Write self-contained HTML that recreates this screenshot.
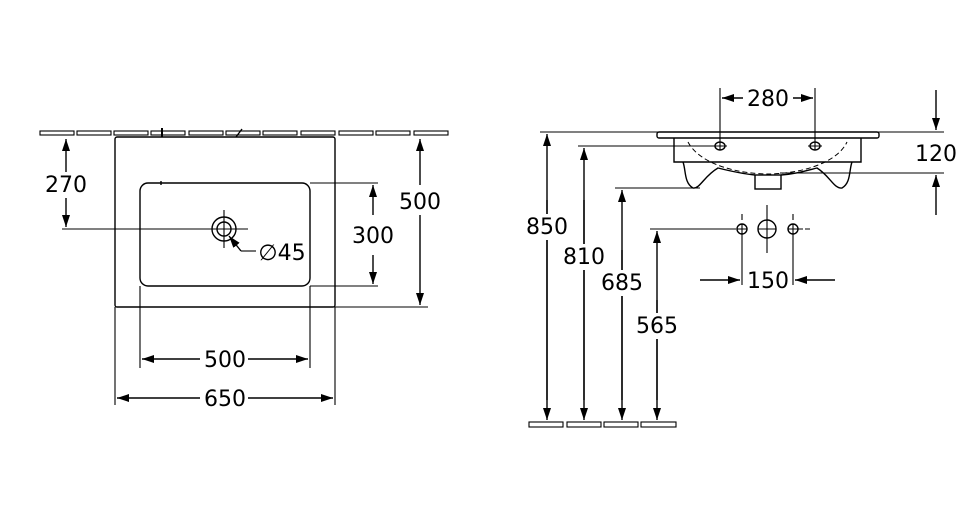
<!DOCTYPE html>
<html><head><meta charset="utf-8"><style>
html,body{margin:0;padding:0;background:#fff;}
svg{display:block}
text{font-family:"DejaVu Sans","Liberation Sans",sans-serif;font-size:22px;fill:#000;}
</style></head><body>
<svg width="977" height="519" viewBox="0 0 977 519" xmlns="http://www.w3.org/2000/svg">
<defs>
<marker id="a" viewBox="0 0 12 8" refX="12" refY="4" markerWidth="12" markerHeight="8" orient="auto" markerUnits="userSpaceOnUse"><path d="M0,0 L12,4 L0,8 z" fill="#000"/></marker>
</defs>
<g stroke="#000" fill="none" stroke-width="1.4">
<g stroke-width="1.1">
<rect x="40" y="131" width="34" height="4"/><rect x="77" y="131" width="34" height="4"/><rect x="114" y="131" width="34" height="4"/><rect x="151" y="131" width="34" height="4"/><rect x="189" y="131" width="34" height="4"/><rect x="226" y="131" width="34" height="4"/><rect x="263" y="131" width="34" height="4"/><rect x="301" y="131" width="34" height="4"/><rect x="339" y="131" width="34" height="4"/><rect x="376" y="131" width="34" height="4"/><rect x="414" y="131" width="34" height="4"/>
</g>
<path d="M162,128 L162,137" stroke-width="2"/>
<path d="M236,137 L242,129"/>
<rect x="115" y="137" width="220" height="170" rx="2"/>
<rect x="140" y="183" width="170" height="103" rx="8"/>
<path d="M161,181 L161,185"/>
<circle cx="224" cy="229" r="12"/><circle cx="224" cy="229" r="7"/>
<path d="M224,210 V248 M212,229 H248 M62,229 H212" stroke-width="1.1"/>
<path d="M241,251 L229,236" marker-end="url(#a)"/>
<path d="M241,251 H256" stroke-width="1.1"/>
<path d="M66,200 V139" marker-end="url(#a)"/><path d="M66,200 V227" marker-end="url(#a)"/>
<path d="M310,183 H378 M310,286 H378" stroke-width="1.1"/>
<path d="M373,215 V185" marker-end="url(#a)"/><path d="M373,255 V284" marker-end="url(#a)"/>
<path d="M310,307 H428" stroke-width="1.1"/>
<path d="M420,185 V139" marker-end="url(#a)"/><path d="M420,215 V305" marker-end="url(#a)"/>
<path d="M115,307 V405 M335,307 V405 M140,286 V368 M310,286 V368" stroke-width="1.1"/>
<path d="M200,359 H142" marker-end="url(#a)"/><path d="M248,359 H308" marker-end="url(#a)"/>
<path d="M200,398 H117" marker-end="url(#a)"/><path d="M248,398 H333" marker-end="url(#a)"/>

<path d="M540,132 H944" stroke-width="1.1"/>
<rect x="657" y="132" width="222" height="6" rx="2" fill="#fff"/>
<path d="M674,138 V162 H861 V138"/>
<path d="M683,162 C686,170 684,183 693,188 C700,189 704,176 718,168 C730,171 745,174 755,175 M781,175 C795,174 805,171 817,168 C830,176 834,189 842,188 C851,183 849,170 852,162"/>
<rect x="755" y="175" width="26" height="14"/>
<path d="M688,142 C700,165 740,174 768,174 C796,174 836,165 847,142" stroke-dasharray="5,3" stroke-width="1"/>
<ellipse cx="720" cy="146" rx="5" ry="4"/><ellipse cx="815" cy="146" rx="5" ry="4"/>
<path d="M578,146 H720 M713,146 H727 M808,146 H822" stroke-width="1.1"/>
<path d="M720,88 V150 M815,88 V150" stroke-width="1.1"/>
<path d="M743,98 H722" marker-end="url(#a)"/><path d="M793,98 H813" marker-end="url(#a)"/>
<path d="M780,173 H944" stroke-width="1.1"/>
<path d="M936,90 V130" marker-end="url(#a)"/><path d="M936,215 V175" marker-end="url(#a)"/>
<path d="M615,188 H700 M650,229 H736" stroke-width="1.1"/>
<circle cx="742" cy="229" r="5"/><circle cx="767" cy="229" r="9"/><circle cx="793" cy="229" r="5"/>
<path d="M737,229 H747 M788,229 H803 M767,205 V253 M758,229 H776" stroke-width="1.1"/>
<path d="M742,214 V220 M742,224 V285 M793,214 V220 M793,224 V285 M805,229 H810" stroke-width="1.1"/>
<path d="M700,280 H740" marker-end="url(#a)"/><path d="M835,280 H795" marker-end="url(#a)"/>
<path d="M547,400 V134" marker-end="url(#a)"/><path d="M547,200 V420" marker-end="url(#a)"/>
<path d="M584,400 V148" marker-end="url(#a)"/><path d="M584,200 V420" marker-end="url(#a)"/>
<path d="M622,400 V190" marker-end="url(#a)"/><path d="M622,250 V420" marker-end="url(#a)"/>
<path d="M657,400 V231" marker-end="url(#a)"/><path d="M657,300 V420" marker-end="url(#a)"/>
<g stroke-width="1.1">
<rect x="529" y="422" width="34" height="5"/><rect x="567" y="422" width="34" height="5"/><rect x="604" y="422" width="34" height="5"/><rect x="641" y="422" width="35" height="5"/>
</g>
</g>
<g text-anchor="middle">
<rect x="43" y="172" width="46" height="26" fill="#fff"/><text x="66" y="192">270</text>
<rect x="350" y="223" width="46" height="26" fill="#fff"/><text x="373" y="243">300</text>
<rect x="397" y="189" width="46" height="26" fill="#fff"/><text x="420" y="209">500</text>
<text x="225" y="367">500</text>
<text x="225" y="406">650</text>
<text x="282" y="260">∅45</text>
<text x="768" y="106">280</text>
<text x="936" y="161">120</text>
<text x="768" y="288">150</text>
<rect x="524" y="214" width="46" height="26" fill="#fff"/><text x="547" y="234">850</text>
<rect x="561" y="244" width="46" height="26" fill="#fff"/><text x="584" y="264">810</text>
<rect x="599" y="270" width="46" height="26" fill="#fff"/><text x="622" y="290">685</text>
<rect x="634" y="313" width="46" height="26" fill="#fff"/><text x="657" y="333">565</text>
</g>
</svg>
</body></html>
